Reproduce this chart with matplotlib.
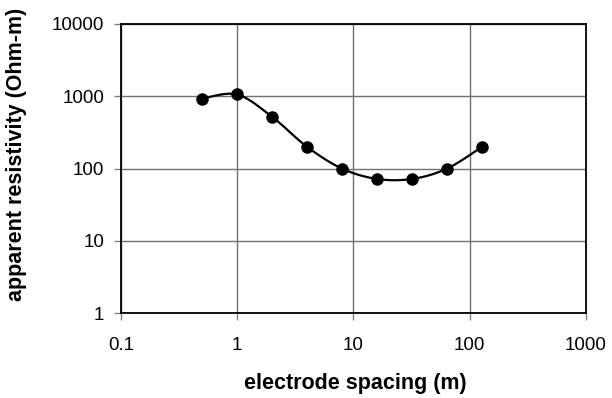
import numpy as np
import matplotlib
matplotlib.use("Agg")
import matplotlib.pyplot as plt

spacing = [0.5, 1, 2, 4, 8, 16, 32, 64, 128]
resistivity = [930, 1060, 520, 200, 100, 72, 72, 100, 200]
xticks = [0.1, 1, 10, 100, 1000]
xticklabels = ["0.1", "1", "10", "100", "1000"]
yticks = [1, 10, 100, 1000, 10000]
yticklabels = ["1", "10", "100", "1000", "10000"]

plt.rcParams['font.family'] = ['Liberation Sans', 'DejaVu Sans']

def smooth_log(xs, ys, n=40):
    # Catmull-Rom style smoothing in log-log (screen) space, like Excel's smoothed line
    lx = np.log10(xs); ly = np.log10(ys)
    P = np.column_stack([lx, ly])
    out = []
    for i in range(len(P) - 1):
        p0 = P[i - 1] if i > 0 else P[i]
        p1 = P[i]; p2 = P[i + 1]
        p3 = P[i + 2] if i + 2 < len(P) else P[i + 1]
        c1 = p1 + (p2 - p0) / 6.0
        c2 = p2 - (p3 - p1) / 6.0
        t = np.linspace(0, 1, n)[:, None]
        seg = ((1 - t) ** 3) * p1 + 3 * ((1 - t) ** 2) * t * c1 + 3 * (1 - t) * t ** 2 * c2 + t ** 3 * p2
        out.append(seg)
    seg = np.vstack(out)
    return 10 ** seg[:, 0], 10 ** seg[:, 1]

fig = plt.figure(figsize=(6.12, 3.98), dpi=100)
ax = fig.add_axes([121 / 612, 1 - 313.3 / 398, (585.7 - 121) / 612, (313.3 - 24) / 398])
ax.set_xscale('log'); ax.set_yscale('log')
ax.set_xlim(0.1, 1000); ax.set_ylim(1, 10000)

sx, sy = smooth_log(spacing, resistivity)
ax.plot(sx, sy, color='black', lw=1.6, zorder=3)
ax.plot(spacing, resistivity, 'o', color='black', ms=8, zorder=4)

ax.set_xticks(xticks); ax.set_xticklabels(xticklabels)
ax.set_yticks(yticks); ax.set_yticklabels(yticklabels)
ax.minorticks_off()
ax.tick_params(axis='both', which='major', labelsize=13.5, direction='out', length=5,
               width=1, color='#808080')
ax.tick_params(axis='x', pad=12)
ax.tick_params(axis='y', pad=7)
ax.grid(True, which='major', color='#707070', lw=1)
for s in ax.spines.values():
    s.set_color('black'); s.set_linewidth(1.3)

fig.text(355 / 612, 1 - 383 / 398, 'electrode spacing (m)', fontsize=15.5, fontweight='bold',
         ha='center', va='center')
fig.text(17 / 612, 1 - 154 / 398, 'apparent resistivity (Ohm-m)', fontsize=15.5, fontweight='bold',
         ha='center', va='center', rotation=90)

fig.savefig('out.png', dpi=100)
